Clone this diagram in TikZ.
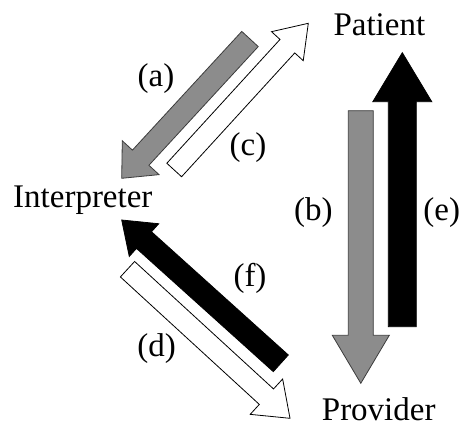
\documentclass[tikz,border=0pt]{standalone}
\usepackage{fontspec}
\setmainfont{Liberation Serif}
\usetikzlibrary{calc}
\tikzset{
  lbl/.style={inner sep=0pt, font=\fontsize{33}{40}\selectfont},
  grayarrow/.style={fill={rgb,255:red,140;green,140;blue,140}, draw={rgb,255:red,60;green,60;blue,60}, line width=0.8pt, line join=miter},
  blackarrow/.style={fill=black, draw=black, line width=0.8pt, line join=miter},
  whitearrow/.style={fill=white, draw=black, line width=0.8pt, line join=miter},
}
% #1 style, #2 tail, #3 tip, #4 half shaft width, #5 half head width, #6 head length
\newcommand\blockarr[6]{%
  \coordinate (hb) at ($(#3)!#6!(#2)$);
  \path[#1] ($(#2)!#4!90:(#3)$) -- ($(hb)!#4!-90:(#2)$) -- ($(hb)!#5!-90:(#2)$) -- (#3)
     -- ($(hb)!#5!90:(#2)$) -- ($(hb)!#4!90:(#2)$) -- ($(#2)!#4!-90:(#3)$) -- cycle;
}
\begin{document}
\begin{tikzpicture}[x=1pt,y=-1pt]
\useasboundingbox (0,0) rectangle (466,434);
% main nodes
\node[lbl, anchor=base west] (pat) at (333.3,35) {Patient};
\node[lbl, anchor=base west] (int) at (13,207.3) {Interpreter};
\node[lbl, anchor=base west] (prov) at (321.7,420) {Provider};
% arrow end points
\coordinate (aT) at (250,39);     \coordinate (aH) at (121.7,178.3);
\coordinate (cT) at (174.2,170);  \coordinate (cH) at (308.3,23.3);
\coordinate (bT) at (360.8,110.7);\coordinate (bH) at (360.8,383.3);
\coordinate (eT) at (402.3,326.7);\coordinate (eH) at (402.3,52.7);
\coordinate (fT) at (280.8,363.3);\coordinate (fH) at (121.7,220);
\coordinate (dT) at (127.5,269.2);\coordinate (dH) at (290,418.3);
% arrows
\blockarr{grayarrow}{aT}{aH}{11.2pt}{25pt}{28pt}
\blockarr{whitearrow}{cT}{cH}{10pt}{21.5pt}{31pt}
\blockarr{grayarrow}{bT}{bH}{12.5pt}{28.5pt}{48pt}
\blockarr{blackarrow}{eT}{eH}{14pt}{29.5pt}{49pt}
\blockarr{blackarrow}{fT}{fH}{11.2pt}{22pt}{30pt}
\blockarr{whitearrow}{dT}{dH}{10.5pt}{24pt}{32pt}
% labels
\node[lbl] (la) at (156,78.3) {(a)};
\node[lbl] (lc) at (248,147.5) {(c)};
\node[lbl] (lb) at (313.3,212.5) {(b)};
\node[lbl] (le) at (441.7,212.5) {(e)};
\node[lbl] (lf) at (250,278) {(f)};
\node[lbl] (ld) at (156.7,349) {(d)};
\end{tikzpicture}
\end{document}
